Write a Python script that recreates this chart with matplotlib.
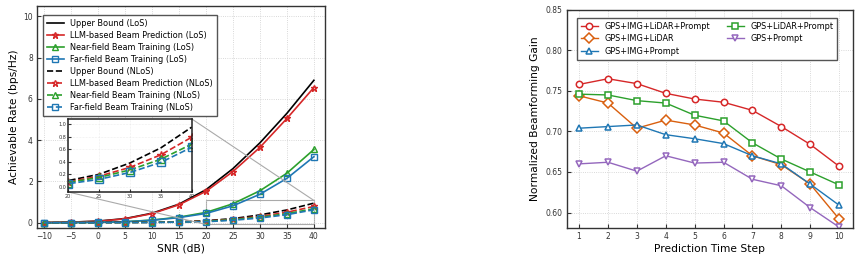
import numpy as np
import matplotlib.pyplot as plt
from mpl_toolkits.axes_grid1.inset_locator import mark_inset

plt.rc('font', size=6)
plt.rc('axes', labelsize=7.7, edgecolor='#333333', linewidth=1.0)
plt.rc('xtick', labelsize=5.5, direction='in', color='#333333')
plt.rc('ytick', labelsize=5.5, direction='in', color='#333333')
plt.rc('xtick.major', size=3, pad=3)
plt.rc('ytick.major', size=3, pad=3)

# ---- datos panel izquierdo ----
snr = [-10, -5, 0, 5, 10, 15, 20, 25, 30, 35, 40]

ub_los   = [0.01, 0.03, 0.08, 0.20, 0.46, 0.90, 1.60, 2.62, 3.87, 5.30, 6.90]
llm_los  = [0.01, 0.03, 0.07, 0.19, 0.44, 0.87, 1.52, 2.48, 3.65, 5.05, 6.55]
near_los = [0.00, 0.01, 0.02, 0.05, 0.13, 0.27, 0.50, 0.92, 1.55, 2.40, 3.55]
far_los  = [0.00, 0.01, 0.02, 0.05, 0.12, 0.25, 0.45, 0.82, 1.38, 2.15, 3.20]

ub_nlos   = [0.00, 0.00, 0.01, 0.02, 0.03, 0.05, 0.10, 0.20, 0.38, 0.62, 0.95]
llm_nlos  = [0.00, 0.00, 0.01, 0.01, 0.02, 0.04, 0.08, 0.17, 0.31, 0.51, 0.79]
near_nlos = [0.00, 0.00, 0.00, 0.01, 0.02, 0.03, 0.07, 0.15, 0.27, 0.44, 0.68]
far_nlos  = [0.00, 0.00, 0.00, 0.01, 0.01, 0.03, 0.05, 0.12, 0.23, 0.39, 0.63]

# ---- datos panel derecho ----
pasos = [1, 2, 3, 4, 5, 6, 7, 8, 9, 10]
g_todo      = [0.758, 0.765, 0.759, 0.747, 0.740, 0.736, 0.726, 0.706, 0.684, 0.657]
g_img_lidar = [0.744, 0.735, 0.704, 0.714, 0.708, 0.698, 0.670, 0.659, 0.635, 0.592]
g_img_prm   = [0.704, 0.706, 0.708, 0.696, 0.691, 0.685, 0.670, 0.660, 0.635, 0.609]
g_lidar_prm = [0.746, 0.745, 0.738, 0.735, 0.720, 0.713, 0.686, 0.666, 0.650, 0.634]
g_prm       = [0.660, 0.662, 0.651, 0.670, 0.661, 0.662, 0.641, 0.633, 0.606, 0.582]

rojo, verde, azul = '#d62728', '#2ca02c', '#1f77b4'
naranja, violeta = '#d95f0e', '#9467bd'

fig = plt.figure(figsize=(8.59, 2.59), dpi=100)
ax1 = fig.add_axes([0.043, 0.12, 0.335, 0.857])
ax2 = fig.add_axes([0.660, 0.12, 0.333, 0.842])

lw, ms = 1.2, 5.0

def los(ax):
    ax.plot(snr, ub_los, color='k', lw=lw, label='Upper Bound (LoS)')
    ax.plot(snr, llm_los, color=rojo, lw=lw, marker='*', ms=ms, mfc='none', label='LLM-based Beam Prediction (LoS)')
    ax.plot(snr, near_los, color=verde, lw=lw, marker='^', ms=ms, mfc='none', label='Near-field Beam Training (LoS)')
    ax.plot(snr, far_los, color=azul, lw=lw, marker='s', ms=ms, mfc='none', label='Far-field Beam Training (LoS)')

def nlos(ax, ms=ms):
    ax.plot(snr, ub_nlos, color='k', lw=lw, ls='--', label='Upper Bound (NLoS)')
    ax.plot(snr, llm_nlos, color=rojo, lw=lw, ls='--', marker='*', ms=ms, mfc='none', label='LLM-based Beam Prediction (NLoS)')
    ax.plot(snr, near_nlos, color=verde, lw=lw, ls='--', marker='^', ms=ms, mfc='none', label='Near-field Beam Training (NLoS)')
    ax.plot(snr, far_nlos, color=azul, lw=lw, ls='--', marker='s', ms=ms, mfc='none', label='Far-field Beam Training (NLoS)')

los(ax1)
nlos(ax1)
ax1.set_xlim(-11.3, 42)
ax1.set_ylim(-0.25, 10.5)
ax1.set_xticks(snr)
ax1.set_yticks([0, 2, 4, 6, 8, 10])
ax1.set_xlabel('SNR (dB)', labelpad=2)
ax1.set_ylabel('Achievable Rate (bps/Hz)', labelpad=3)
ax1.grid(True, ls=':', lw=0.6, color='#cccccc')
ax1.legend(loc='upper left', bbox_to_anchor=(0.021, 0.96), borderaxespad=0, fontsize=5.9,
           fancybox=False, edgecolor='#555555', framealpha=1, labelspacing=0.38,
           handlelength=2.1, handletextpad=0.8, borderpad=0.45)

# Zoom
axins = ax1.inset_axes([0.108, 0.162, 0.43, 0.329])
nlos(axins, ms=5.5)
axins.set_xlim(20, 40)
axins.set_ylim(-0.08, 1.08)
axins.set_xticks([20, 25, 30, 35, 40])
axins.set_yticks([0.0, 0.2, 0.4, 0.6, 0.8, 1.0])
axins.tick_params(labelsize=3.5, length=2, pad=1.5)
axins.grid(True, ls=':', lw=0.4, color='#dddddd')
for s in axins.spines.values():
    s.set_linewidth(1.1)
    s.set_edgecolor('#222222')
mark_inset(ax1, axins, loc1=1, loc2=3, fc='none', ec='#aaaaaa', lw=0.8)

# ---- panel derecho ----
kw = dict(lw=1.0, ms=4.6, mfc='white', mew=1.1)
ax2.plot(pasos, g_todo, color=rojo, marker='o', label='GPS+IMG+LiDAR+Prompt', **kw)
ax2.plot(pasos, g_img_lidar, color=naranja, marker='D', label='GPS+IMG+LiDAR', **kw)
ax2.plot(pasos, g_img_prm, color=azul, marker='^', label='GPS+IMG+Prompt', **kw)
ax2.plot(pasos, g_lidar_prm, color=verde, marker='s', label='GPS+LiDAR+Prompt', **kw)
ax2.plot(pasos, g_prm, color=violeta, marker='v', label='GPS+Prompt', **kw)
ax2.set_xlim(0.58, 10.48)
ax2.set_ylim(0.581, 0.85)
ax2.set_xticks(pasos)
ax2.set_yticks([0.60, 0.65, 0.70, 0.75, 0.80, 0.85])
ax2.set_xlabel('Prediction Time Step', labelpad=2)
ax2.set_ylabel('Normalized Beamforming Gain', labelpad=4)
ax2.grid(True, ls=':', lw=0.6, color='#cccccc')
ax2.legend(loc='upper left', bbox_to_anchor=(0.035, 0.963), borderaxespad=0, ncol=2,
           fontsize=5.9, fancybox=False, edgecolor='#555555', framealpha=1,
           labelspacing=0.45, handlelength=2.1, handletextpad=0.8,
           columnspacing=2.0, borderpad=0.45)

fig.savefig('out.png', dpi=100)
